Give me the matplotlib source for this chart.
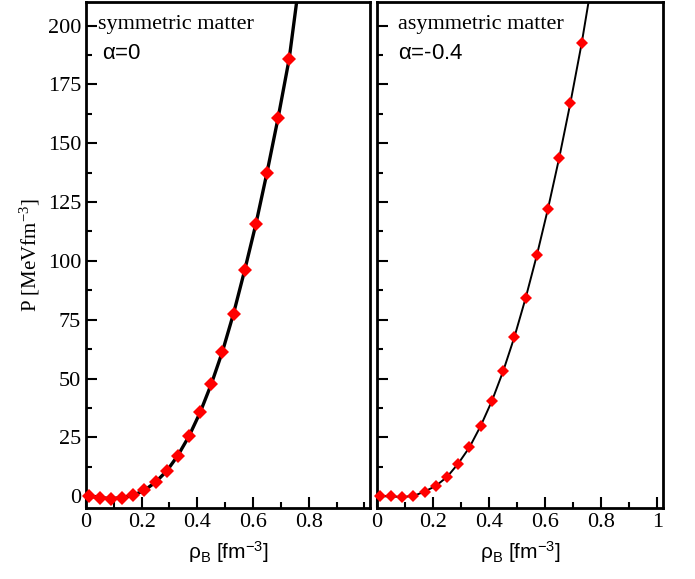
import matplotlib as mpl
import numpy as np
import matplotlib.pyplot as plt
from matplotlib.ticker import MultipleLocator

mpl.rcParams["font.family"] = "Liberation Serif"
mpl.rcParams["mathtext.fontset"] = "custom"
mpl.rcParams["mathtext.rm"] = "Liberation Sans"
mpl.rcParams["mathtext.it"] = "Liberation Sans"
mpl.rcParams["mathtext.default"] = "regular"

# baryon density grid of the markers [fm^-3]
rho = [0.01, 0.05, 0.09, 0.13, 0.17, 0.21, 0.25, 0.29, 0.33, 0.37,
       0.41, 0.45, 0.49, 0.53, 0.57, 0.61, 0.65, 0.69, 0.73]

# pressure, symmetric matter (alpha = 0)
p_sym = [0.1, -0.6, -1.0, -0.6, 0.4, 2.5, 6.0, 10.7, 17.3, 25.5,
         35.6, 47.6, 61.4, 77.6, 96.0, 115.5, 137.4, 160.7, 185.9]

# pressure, asymmetric matter (alpha = -0.4)
p_asym = [0.1, -0.1, -0.3, 0.1, 2.0, 4.4, 8.2, 13.9, 20.8, 29.9,
          40.5, 53.1, 67.6, 84.1, 102.3, 122.2, 143.8, 167.2, 192.4]

# curve continues past the markers on both ends
rho_ends = [0.0, 0.77]
p_sym_ends = [0.0, 222.0]
p_asym_ends = [0.0, 221.0]

x_ticks_left = [0, 0.2, 0.4, 0.6, 0.8]
x_ticks_right = [0, 0.2, 0.4, 0.6, 0.8, 1]
y_ticks = [0, 25, 50, 75, 100, 125, 150, 175, 200]

fig = plt.figure(figsize=(6.95, 5.79), dpi=100)
ax1 = fig.add_axes([0.1237, 0.1226, 0.4086, 0.874])
ax2 = fig.add_axes([0.5424, 0.1226, 0.4115, 0.874])

# (axis, data, ends, line width, marker size, x ticks, title, alpha text, text x)
panels = [
    (ax1, p_sym, p_sym_ends, 2.4, 7.6, x_ticks_left, "symmetric matter", r"$\alpha$=0", 0.042, 0.056),
    (ax2, p_asym, p_asym_ends, 1.4, 5.8, x_ticks_right, "asymmetric matter", r"$\alpha$=-0.4", 0.073, 0.073),
]

for ax, p, p_ends, lw, ms, xt, title, alpha_txt, tx, ax_txt in panels:
    line_x = [rho_ends[0]] + rho + [rho_ends[1]]
    line_y = [p_ends[0]] + p + [p_ends[1]]
    ax.plot(line_x, line_y, color="k", lw=lw, zorder=2)
    ax.plot(rho, p, "D", color="red", ms=ms, mew=0, zorder=3, clip_on=False)

    ax.set_xlim(0, 1.02)
    ax.set_ylim(-5, 210)
    ax.set_xticks(xt)
    ax.set_xticklabels([f"{v:g}" for v in xt])
    ax.set_yticks(y_ticks)
    ax.xaxis.set_minor_locator(MultipleLocator(0.1))
    ax.yaxis.set_minor_locator(MultipleLocator(12.5))
    ax.tick_params(which="major", direction="in", length=8, width=1.5, labelsize=16)
    ax.tick_params(which="minor", direction="in", length=4, width=1.5)
    for s in ax.spines.values():
        s.set_linewidth(2)

    ax.set_xlabel(r"$\rho_B$ [fm$^{-3}$]", fontsize=15, family="Liberation Sans", labelpad=5)
    ax.text(tx, 0.975, title, transform=ax.transAxes, fontsize=16, va="top", ha="left")
    ax.text(ax_txt, 0.918, alpha_txt, transform=ax.transAxes, fontsize=16, va="top", ha="left",
            family="Liberation Sans")

ax1.set_ylabel("P [MeVfm$^{-3}$]", fontsize=15, labelpad=4)
ax2.tick_params(axis="y", labelleft=False)

plt.savefig("out.png", dpi=100)
